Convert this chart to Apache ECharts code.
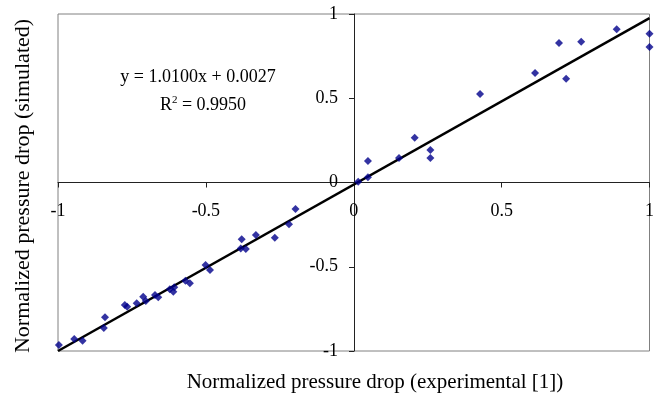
<!DOCTYPE html>
<html>
<head>
<meta charset="utf-8">
<script src="https://cdn.jsdelivr.net/npm/echarts@6/dist/echarts.min.js"></script>
<style>
  html, body { margin: 0; padding: 0; background: #fff; }
  #chart { width: 657px; height: 397px; }
</style>
</head>
<body>
<div id="chart"></div>
<script>
// measured points: [experimental, simulated]
var measured = [
    [-0.997, -0.964], [-0.945, -0.929], [-0.917, -0.939], [-0.841, -0.800],
    [-0.845, -0.863], [-0.774, -0.727], [-0.766, -0.737], [-0.734, -0.717],
    [-0.712, -0.678], [-0.703, -0.703], [-0.672, -0.668], [-0.661, -0.681],
    [-0.622, -0.634], [-0.607, -0.622], [-0.610, -0.648], [-0.569, -0.583],
    [-0.554, -0.598], [-0.501, -0.490], [-0.486, -0.519], [-0.379, -0.337],
    [-0.382, -0.391], [-0.365, -0.395], [-0.331, -0.312], [-0.267, -0.328],
    [-0.219, -0.248], [-0.197, -0.157],
    [0.015, 0.005], [0.048, 0.031], [0.048, 0.128], [0.153, 0.145],
    [0.206, 0.266], [0.259, 0.193], [0.259, 0.145], [0.427, 0.525],
    [0.613, 0.650], [0.694, 0.828], [0.718, 0.616], [0.769, 0.836],
    [0.889, 0.909], [1.0, 0.883], [1.0, 0.804]
]
var trendLine = [[-1, -1.0], [1, 0.975]]
var equationText = 'y = 1.0100x + 0.0027'
var r2Text = '0.9950'
var xTitle = 'Normalized pressure drop (experimental [1])'
var yTitle = 'Normalized pressure drop (simulated)'

var serif = '"Liberation Serif", "DejaVu Serif", serif'
var chart = echarts.init(document.getElementById('chart'))

// plot box
var gLeft = 58, gRight = 7, gTop = 14, gBottom = 46
var plotW = 657 - gLeft - gRight
var plotH = 397 - gTop - gBottom

chart.setOption({
    backgroundColor: '#fff',
    animation: false,
    grid: {
        left: gLeft, right: gRight, top: gTop, bottom: gBottom,
        show: true, borderColor: '#808080', borderWidth: 1
    },
    // axes crossing at the origin (offset from the box edges)
    xAxis: {
        type: 'value', min: -1, max: 1, interval: 0.5,
        position: 'bottom',
        offset: -plotH / 2,
        axisLine: { onZero: false, lineStyle: { color: '#222', width: 1 } },
        axisTick: { show: true, length: 5, lineStyle: { color: '#222' } },
        axisLabel: {
            fontFamily: serif, fontSize: 18, color: '#000', margin: 20,
            formatter: function (v) { return String(v) }
        },
        splitLine: { show: false }
    },
    yAxis: {
        type: 'value', min: -1, max: 1, interval: 0.5,
        position: 'left',
        offset: -plotW / 2,
        axisLine: { onZero: false, lineStyle: { color: '#222', width: 1 } },
        axisTick: { show: true, length: 5, lineStyle: { color: '#222' } },
        axisLabel: {
            fontFamily: serif, fontSize: 18, color: '#000', margin: 16,
            formatter: function (v) { return String(v) }
        },
        splitLine: { show: false }
    },
    graphic: [
        {
            type: 'text', x: 198, y: 77,
            style: {
                text: equationText, font: '18px ' + serif, fill: '#000',
                align: 'center', verticalAlign: 'middle'
            }
        },
        {
            type: 'text', x: 203, y: 105,
            style: {
                text: 'R{s|2} = ' + r2Text,
                font: '18px ' + serif, fill: '#000',
                align: 'center', verticalAlign: 'middle',
                rich: { s: { fontSize: 11, fontFamily: serif, padding: [0, 0, 9, 0] } }
            }
        },
        {
            type: 'text', x: 375, y: 382,
            style: {
                text: xTitle, font: '21px ' + serif, fill: '#000',
                align: 'center', verticalAlign: 'middle'
            }
        },
        {
            type: 'text', x: 23, y: 186, rotation: Math.PI / 2,
            style: {
                text: yTitle, font: '22px ' + serif, fill: '#000',
                align: 'center', verticalAlign: 'middle'
            }
        }
    ],
    series: [
        {
            type: 'line',
            data: trendLine,
            showSymbol: false,
            lineStyle: { color: '#000', width: 2.5 },
            z: 3
        },
        {
            type: 'scatter',
            data: measured,
            symbol: 'diamond',
            symbolSize: 8,
            itemStyle: { color: '#00008b' },
            z: 4
        }
    ]
})
</script>
</body>
</html>
